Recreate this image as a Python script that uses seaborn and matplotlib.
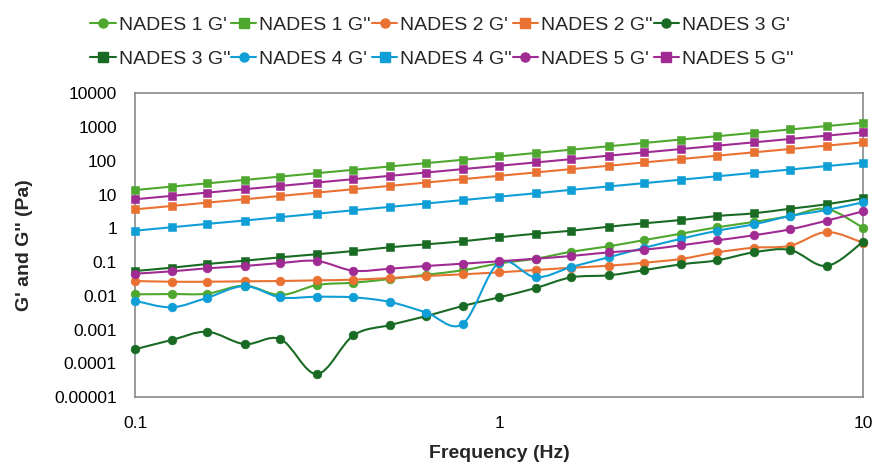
import numpy as np
import pandas as pd
import matplotlib
matplotlib.use("Agg")
import matplotlib.pyplot as plt
import seaborn as sns
from matplotlib.path import Path
from matplotlib.patches import PathPatch
from matplotlib.lines import Line2D
from matplotlib.ticker import FixedLocator, FixedFormatter, NullLocator

# ---- data: oscillatory frequency sweep ----
frequency = [0.1, 0.126, 0.158, 0.2, 0.251, 0.316, 0.398, 0.501, 0.631, 0.794,
             1.0, 1.26, 1.58, 2.0, 2.51, 3.16, 3.98, 5.01, 6.31, 7.94, 10.0]

nades1_gp = [0.0111, 0.0113, 0.0116, 0.020, 0.0106, 0.0209, 0.0245, 0.0315, 0.0423, 0.0571,
             0.091, 0.126, 0.203, 0.294, 0.452, 0.695, 1.08, 1.55, 2.33, 3.76, 1.05]
nades1_gpp = [13.7, 17.3, 21.7, 27.3, 34.4, 43.3, 54.5, 68.5, 86.1, 108,
              136, 172, 216, 272, 342, 431, 542, 682, 858, 1080, 1360]
nades2_gp = [0.0275, 0.0262, 0.0262, 0.027, 0.0275, 0.0288, 0.0301, 0.0338, 0.0387, 0.0435,
             0.0498, 0.0583, 0.0682, 0.0782, 0.096, 0.124, 0.195, 0.267, 0.306, 0.78, 0.376]
nades2_gpp = [3.67, 4.61, 5.81, 7.29, 9.18, 11.5, 14.5, 18.2, 22.9, 28.8,
              36.2, 45.5, 57.3, 71.9, 90.6, 114, 143, 180, 226, 284, 357]
nades3_gp = [0.00026, 0.00049, 0.00086, 0.00037, 0.00052, 0.000048, 0.00067, 0.00136, 0.0025, 0.0050,
             0.0090, 0.017, 0.0354, 0.0406, 0.058, 0.086, 0.113, 0.195, 0.229, 0.0766, 0.40]
nades3_gpp = [0.0545, 0.0682, 0.0879, 0.110, 0.139, 0.171, 0.213, 0.275, 0.337, 0.414,
              0.543, 0.695, 0.853, 1.12, 1.42, 1.77, 2.33, 2.80, 3.83, 5.18, 7.80]
nades4_gp = [0.00716, 0.00457, 0.0088, 0.0195, 0.0090, 0.0094, 0.0090, 0.0066, 0.0032, 0.00146,
             0.097, 0.0354, 0.0716, 0.139, 0.267, 0.491, 0.853, 1.32, 2.33, 3.51, 5.93]
nades4_gpp = [0.855, 1.08, 1.36, 1.71, 2.16, 2.73, 3.44, 4.34, 5.47, 6.90,
              8.71, 11.0, 13.9, 17.5, 22.0, 27.8, 35.1, 44.3, 55.7, 70.3, 88.7]
nades5_gp = [0.0453, 0.0533, 0.0655, 0.0766, 0.094, 0.108, 0.0556, 0.0637, 0.0766, 0.0897,
             0.106, 0.126, 0.152, 0.195, 0.233, 0.315, 0.443, 0.624, 0.94, 1.69, 3.21]
nades5_gpp = [7.3, 9.2, 11.5, 14.5, 18.2, 22.9, 28.8, 36.1, 45.4, 57.1,
              71.8, 90.2, 113, 143, 179, 225, 283, 356, 448, 562, 706]

series_names = ["NADES 1 G'", "NADES 1 G''", "NADES 2 G'", "NADES 2 G''", "NADES 3 G'",
                "NADES 3 G''", "NADES 4 G'", "NADES 4 G''", "NADES 5 G'", "NADES 5 G''"]
series_values = [nades1_gp, nades1_gpp, nades2_gp, nades2_gpp, nades3_gp,
                 nades3_gpp, nades4_gp, nades4_gpp, nades5_gp, nades5_gpp]

y_ticks = [1e-5, 1e-4, 1e-3, 1e-2, 1e-1, 1, 10, 100, 1000, 10000]
y_tick_labels = ["0.00001", "0.0001", "0.001", "0.01", "0.1", "1", "10", "100", "1000", "10000"]
x_ticks = [0.1, 1, 10]
x_tick_labels = ["0.1", "1", "10"]

# ---- styling ----
sample_colors = ["#4EA72E", "#E97132", "#196B24", "#0F9ED5", "#A02B93"]
palette = {}
marker_map = {}
for i, name in enumerate(series_names):
    palette[name] = sample_colors[i // 2]
    marker_map[name] = "o" if i % 2 == 0 else "s"

df = pd.concat(
    [pd.DataFrame({"Frequency": frequency, "Modulus": vals, "Series": name})
     for name, vals in zip(series_names, series_values)],
    ignore_index=True,
)

sns.set_theme(style="white")
plt.rcParams["font.family"] = ["Liberation Sans", "DejaVu Sans"]

fig = plt.figure(figsize=(8.75, 4.71), dpi=100)
ax = fig.add_axes([0.1543, 0.1571, 0.832, 0.6444])
ax.set_xscale("log")
ax.set_yscale("log")


def smooth_path(xs, ys):
    """Cubic Bezier path through the points, built in log-log space."""
    lx, ly = np.log10(xs), np.log10(ys)
    n = len(lx)
    verts = [(lx[0], ly[0])]
    codes = [Path.MOVETO]
    for i in range(n - 1):
        a = max(i - 1, 0)
        b = min(i + 2, n - 1)
        c1 = (lx[i] + (lx[i + 1] - lx[a]) / 6, ly[i] + (ly[i + 1] - ly[a]) / 6)
        c2 = (lx[i + 1] - (lx[b] - lx[i]) / 6, ly[i + 1] - (ly[b] - ly[i]) / 6)
        verts += [c1, c2, (lx[i + 1], ly[i + 1])]
        codes += [Path.CURVE4] * 3
    return Path(10 ** np.array(verts), codes)


for i, name in enumerate(series_names):
    sub = df[df["Series"] == name]
    col = palette[name]
    ax.add_patch(PathPatch(smooth_path(sub["Frequency"].values, sub["Modulus"].values),
                           facecolor="none", edgecolor=col, lw=1.5,
                           zorder=2 + 2 * i, clip_on=False))
    sns.scatterplot(data=sub, x="Frequency", y="Modulus", color=col,
                    marker=marker_map[name], s=38 if marker_map[name] == "s" else 40,
                    edgecolor=col, linewidth=0.4, ax=ax, legend=False,
                    zorder=3 + 2 * i, clip_on=False)

ax.set_xlim(0.1, 10)
ax.set_ylim(1e-5, 1e4)

ax.yaxis.set_major_locator(FixedLocator(y_ticks))
ax.yaxis.set_major_formatter(FixedFormatter(y_tick_labels))
ax.xaxis.set_major_locator(FixedLocator(x_ticks))
ax.xaxis.set_major_formatter(FixedFormatter(x_tick_labels))
ax.xaxis.set_minor_locator(NullLocator())
ax.yaxis.set_minor_locator(NullLocator())

spine_color = "#808080"
for s in ax.spines.values():
    s.set_visible(True)
    s.set_color(spine_color)
    s.set_linewidth(1.1)

ax.tick_params(axis="both", which="major", direction="out", length=5, width=1.1,
               color=spine_color, labelsize=12.5, labelcolor="black")
ax.tick_params(axis="y", pad=8)
ax.tick_params(axis="x", pad=9)
ax.grid(False)

ax.set_xlabel("Frequency (Hz)", fontsize=14, fontweight="bold", labelpad=10)
ax.set_ylabel("G' and G'' (Pa)", fontsize=14, fontweight="bold", labelpad=15)

# legend laid out row by row, five entries per row
handles = [Line2D([0], [0], color=palette[n], marker=marker_map[n], markersize=6.5,
                  lw=1.5, markeredgecolor=palette[n]) for n in series_names]
order = [0, 5, 1, 6, 2, 7, 3, 8, 4, 9]
fig.legend([handles[k] for k in order], [series_names[k] for k in order],
           ncol=5, loc="center", bbox_to_anchor=(0.505, 0.911), frameon=False,
           fontsize=14, handlelength=1.3, handletextpad=0.15, columnspacing=0.05,
           labelspacing=0.85, borderaxespad=0)

fig.savefig("out.png", dpi=100)
